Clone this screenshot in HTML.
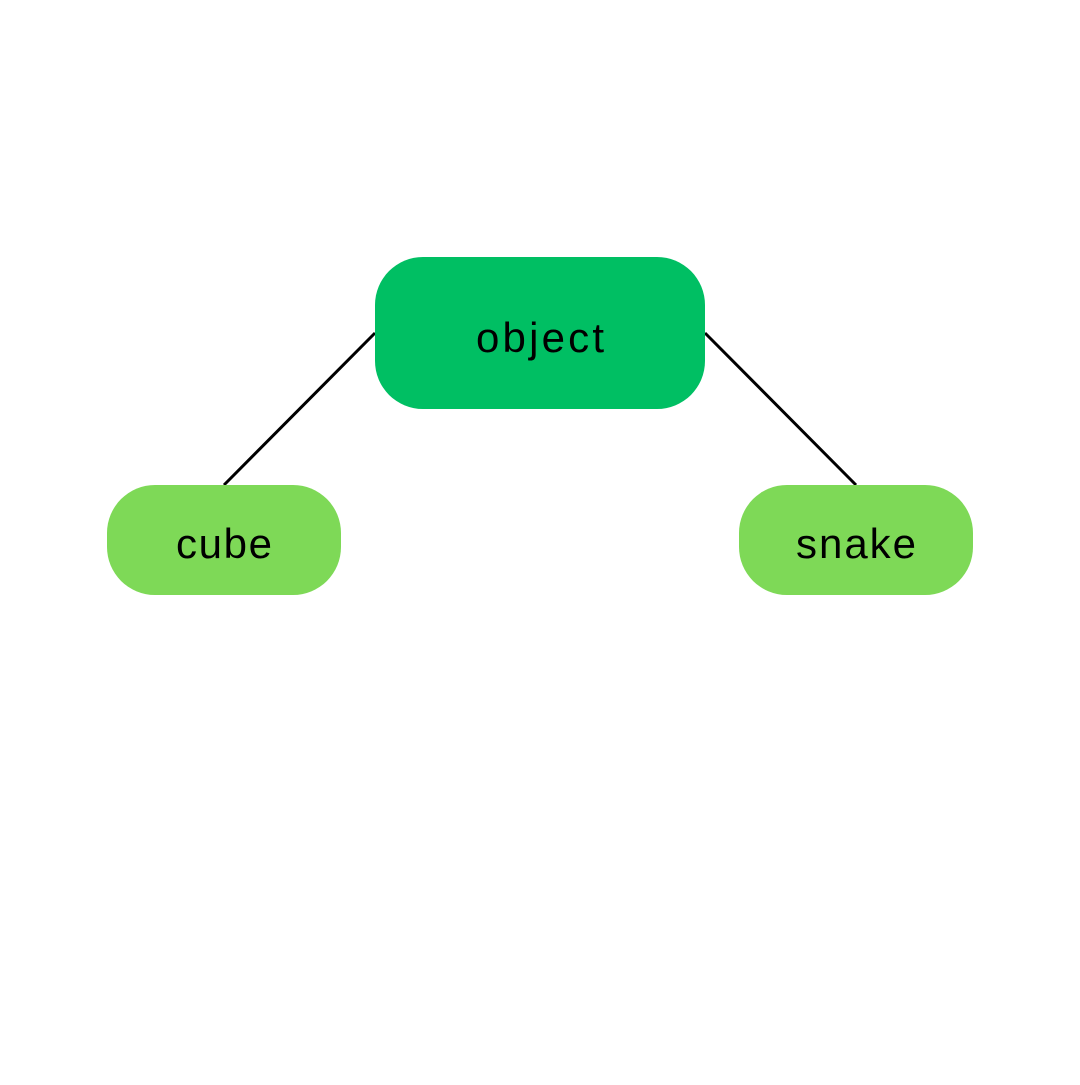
<!DOCTYPE html>
<html><head><style>
html,body{margin:0;padding:0;background:#fff;}
</style></head><body>
<svg width="1080" height="1080" xmlns="http://www.w3.org/2000/svg">
<rect width="1080" height="1080" fill="#fff"/>
<line x1="375" y1="333" x2="224" y2="485" stroke="#000" stroke-width="3"/>
<line x1="705" y1="333" x2="856" y2="485" stroke="#000" stroke-width="3"/>
<rect x="375" y="257" width="330" height="152" rx="48" fill="#00bf63"/>
<rect x="107" y="485" width="234" height="110" rx="48" fill="#7ed957"/>
<rect x="739" y="485" width="234" height="110" rx="48" fill="#7ed957"/>
<text x="476" y="352" font-family="Liberation Sans, sans-serif" font-size="42" textLength="128" lengthAdjust="spacing" fill="#000">object</text>
<text x="176" y="558" font-family="Liberation Sans, sans-serif" font-size="42" textLength="96" lengthAdjust="spacing" fill="#000">cube</text>
<text x="796" y="558" font-family="Liberation Sans, sans-serif" font-size="42" textLength="120" lengthAdjust="spacing" fill="#000">snake</text>
</svg>
</body></html>
